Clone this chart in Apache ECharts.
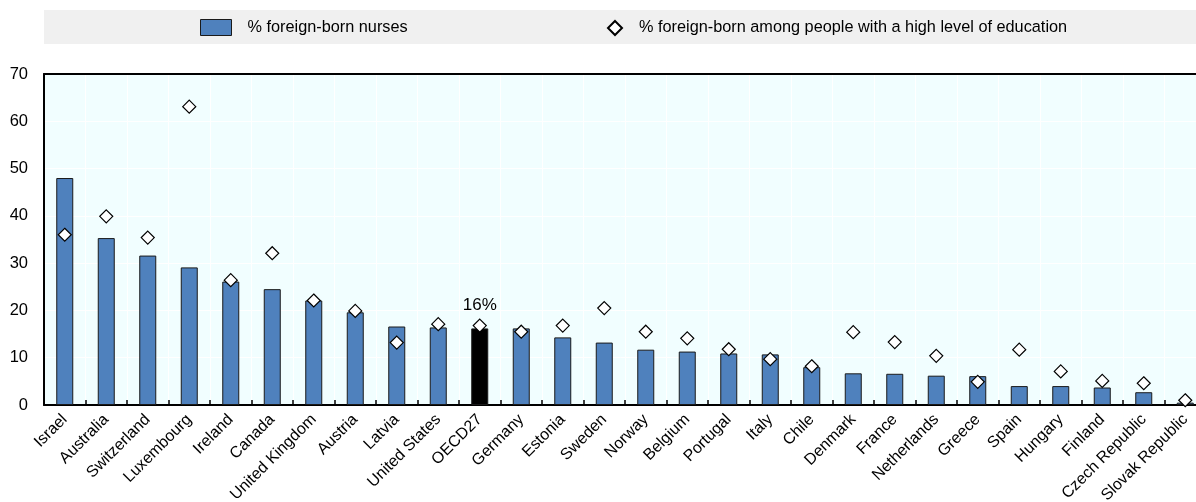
<!DOCTYPE html>
<html>
<head>
<meta charset="utf-8">
<script src="https://cdn.jsdelivr.net/npm/echarts@6/dist/echarts.min.js"></script>
<style>
html,body{margin:0;padding:0;background:#fff;}
#chart{width:1196px;height:502px;}
</style>
</head>
<body>
<div id="chart"></div>
<script>
var categories = ["Israel","Australia","Switzerland","Luxembourg","Ireland","Canada","United Kingdom","Austria","Latvia","United States","OECD27","Germany","Estonia","Sweden","Norway","Belgium","Portugal","Italy","Chile","Denmark","France","Netherlands","Greece","Spain","Hungary","Finland","Czech Republic","Slovak Republic"];
var nurses = [48.0,35.3,31.6,29.1,26.1,24.5,22.1,19.6,16.6,16.4,16.2,16.2,14.3,13.2,11.7,11.3,10.9,10.7,8.0,6.7,6.6,6.2,6.1,4.0,4.0,3.7,2.7,0.5];
var highEdu = [36.0,39.9,35.4,63.1,26.4,32.1,22.1,19.9,13.2,17.1,16.8,15.5,16.8,20.5,15.5,14.1,11.8,9.7,8.2,15.4,13.3,10.4,4.9,11.7,7.1,5.1,4.6,1.0];
var yTicks = [0,10,20,30,40,50,60,70];
var seriesNames = ["% foreign-born nurses","% foreign-born among people with a high level of education"];
var highlightCat = "OECD27";
var highlightLabel = "16%";

var FONT = "'Liberation Sans', Arial, sans-serif";
var BLUE = "#4F81BD";

var barData = nurses.map(function(v,i){
  if (categories[i] === highlightCat) {
    return {value:v, itemStyle:{color:"#000000"},
      label:{show:true, position:"top", distance:15, formatter:highlightLabel,
             fontFamily:FONT, fontSize:17, color:"#000"}};
  }
  return v;
});

var chart = echarts.init(document.getElementById('chart'), null, {renderer:'canvas'});
chart.setOption({
  animation:false,
  backgroundColor:"#ffffff",
  textStyle:{fontFamily:FONT, color:"#000"},
  graphic:[{type:"rect", left:44, top:10, shape:{width:1160, height:34}, style:{fill:"#F0F0F0"}, z:-10}],
  legend:[
    {data:[seriesNames[0]], left:200, top:19, itemWidth:31, itemHeight:16, padding:0, icon:"rect",
     itemStyle:{borderColor:"#1a1a1a", borderWidth:1},
     textStyle:{fontFamily:FONT, fontSize:16.3, color:"#000", padding:[0,0,0,11]}},
    {data:[seriesNames[1]], left:607, top:20, itemWidth:14, itemHeight:14, padding:0, icon:"diamond",
     textStyle:{fontFamily:FONT, fontSize:16.3, color:"#000", padding:[0,0,0,12]}}
  ],
  grid:{left:44, top:74, width:1162, height:331, show:true, backgroundColor:"#F1FEFF", borderWidth:0,
        containLabel:false, outerBoundsMode:"none"},
  xAxis:[{
    type:"category", data:categories, position:"bottom",
    axisLine:{show:true, lineStyle:{color:"#000", width:2}},
    axisTick:{show:true, inside:true, length:5, alignWithLabel:false, lineStyle:{color:"#000", width:1.5}},
    axisLabel:{rotate:45, margin:12, interval:0, fontFamily:FONT, fontSize:16, color:"#000"},
    splitLine:{show:true, lineStyle:{color:"#ffffff", width:1}}
  },{
    type:"category", data:categories, position:"top",
    axisLine:{show:true, lineStyle:{color:"#000", width:2}},
    axisTick:{show:false}, axisLabel:{show:false}, splitLine:{show:false}
  }],
  yAxis:{
    type:"value", min:yTicks[0], max:yTicks[yTicks.length-1], interval:10,
    axisLine:{show:true, lineStyle:{color:"#000", width:2}},
    axisTick:{show:false},
    axisLabel:{margin:16, fontFamily:FONT, fontSize:16.5, color:"#000"},
    splitLine:{show:true, lineStyle:{color:"#ffffff", width:1}}
  },
  series:[
    {name:seriesNames[0], type:"bar", data:barData, barWidth:17, xAxisIndex:0,
     itemStyle:{color:BLUE, borderColor:"#1a1a1a", borderWidth:1}, z:2},
    {name:seriesNames[1], type:"scatter", data:highEdu, xAxisIndex:0, symbol:"diamond", symbolSize:[13,13],
     itemStyle:{color:"#ffffff", borderColor:"#000", borderWidth:1.2, opacity:1}, z:3}
  ]
});
</script>
</body>
</html>
